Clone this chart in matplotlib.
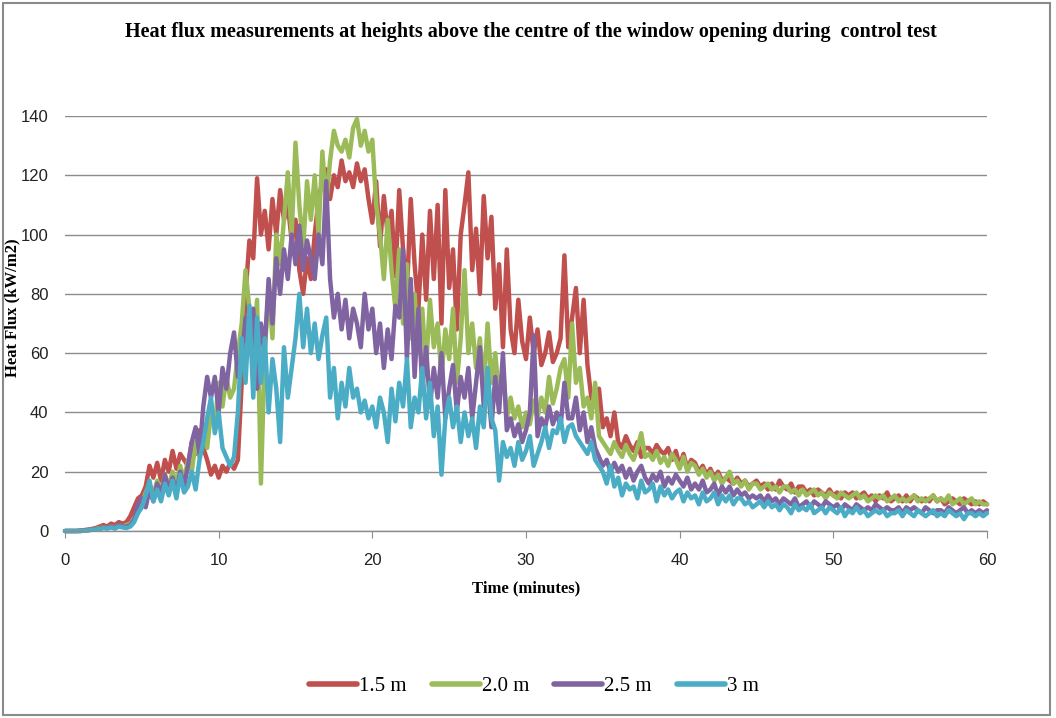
import numpy as np
import matplotlib
matplotlib.use("Agg")
import matplotlib.pyplot as plt
from matplotlib.patches import Rectangle

# time in minutes, one reading every 0.25 min
time_min = np.arange(0, 60.001, 0.25)

flux_1_5m = [
    0, 0, 0, 0,   0.2, 0.3, 0.5, 0.7,   1, 1.5, 2, 1.5,   2.5, 2, 3, 2.5,
    3, 5, 8, 11,   12, 15, 22, 18,   23, 17, 24, 20,   27, 21, 26, 24,
    22, 30, 26, 34,   28, 24, 19, 22,   18, 22, 20, 23,   21, 24, 50, 80,
    98, 92, 119, 100,   108, 95, 112, 100,   115, 105, 110, 98,   105, 88, 80, 92,
    85, 100, 112, 118,   122, 112, 120, 116,   125, 118, 121, 116,   124, 118, 122, 112,
    104, 118, 96, 113,   100, 108, 86, 115,   95, 80, 112, 90,   75, 100, 78, 108,
    85, 110, 70, 115,   82, 95, 68, 100,   110, 121, 88, 102,   80, 113, 92, 106,
    75, 90, 62, 95,   68, 60, 78, 64,   58, 72, 60, 68,   56, 60, 67, 57,
    60, 65, 93, 62,   72, 82, 60, 78,   56, 45, 42, 48,   35, 38, 32, 40,
    30, 28, 32, 29,   27, 30, 25, 28,   28, 26, 29, 27,   26, 28, 24, 27,
    22, 26, 21, 24,   23, 20, 22, 19,   21, 18, 20, 17,   18, 17, 16, 18,
    16, 17, 15, 16,   17, 15, 16, 14,   16, 14, 17, 15,   14, 16, 13, 15,
    15, 13, 14, 12,   14, 13, 12, 14,   12, 13, 11, 13,   12, 13, 11, 12,
    13, 11, 12, 10,   12, 11, 13, 10,   11, 12, 10, 12,   10, 12, 11, 10,
    11, 10, 12, 10,   11, 9, 10, 11,   10, 9, 11, 10,   9, 10, 9, 10,
    9,
]

flux_2_0m = [
    0, 0, 0, 0,   0, 0.2, 0.3, 0.5,   0.7, 1, 1.2, 1,   1.5, 1.2, 2, 1.5,
    2, 2.5, 4, 7,   9, 13, 16, 12,   17, 13, 19, 15,   20, 16, 22, 17,
    24, 20, 30, 25,   33, 28, 40, 35,   50, 42, 52, 45,   48, 60, 70, 88,
    75, 62, 78, 16,   60, 82, 65, 100,   90, 105, 121, 100,   131, 110, 95, 118,
    105, 120, 100, 128,   110, 125, 135, 130,   128, 132, 126, 136,   139, 130, 135, 128,
    132, 110, 100, 85,   105, 88, 75, 95,   70, 90, 65, 80,   60, 75, 55, 78,
    62, 70, 52, 68,   58, 75, 50, 65,   88, 60, 70, 55,   65, 48, 70, 50,
    60, 45, 55, 38,   45, 38, 42, 35,   40, 36, 44, 38,   45, 40, 52, 43,
    48, 55, 58, 45,   70, 50, 55, 42,   45, 38, 50, 32,   30, 28, 26, 30,
    27, 25, 29, 26,   24, 28, 33, 25,   26, 24, 27, 23,   25, 22, 26, 24,
    21, 25, 20, 23,   22, 19, 21, 18,   20, 17, 19, 16,   18, 20, 16, 17,
    15, 17, 14, 16,   16, 14, 15, 16,   14, 15, 13, 15,   15, 13, 14, 12,
    14, 12, 13, 14,   12, 13, 11, 13,   12, 11, 13, 12,   11, 12, 13, 11,
    12, 10, 11, 12,   11, 12, 10, 11,   12, 10, 11, 10,   11, 12, 10, 11,
    10, 11, 12, 10,   11, 10, 12, 9,   10, 11, 9, 10,   11, 9, 10, 9,
    9,
]

flux_2_5m = [
    0, 0, 0, 0,   0, 0.2, 0.3, 0.5,   0.6, 0.8, 1.2, 1,   1.5, 1, 2, 1.5,
    1.5, 2, 4, 9,   11, 8, 14, 10,   16, 12, 19, 14,   18, 13, 20, 15,
    22, 30, 35, 26,   42, 52, 45, 52,   40, 55, 48, 60,   67, 52, 58, 72,
    60, 75, 48, 70,   62, 85, 70, 92,   80, 95, 85, 100,   90, 103, 88, 98,
    92, 85, 100, 90,   118, 85, 72, 80,   68, 78, 65, 75,   70, 62, 80, 68,
    75, 60, 70, 55,   68, 58, 76, 72,   95, 58, 85, 52,   75, 48, 62, 42,
    55, 45, 60, 38,   48, 56, 40, 52,   45, 55, 38, 50,   62, 42, 50, 35,
    52, 40, 60, 34,   38, 32, 36, 30,   34, 40, 66, 32,   38, 35, 42, 36,
    40, 35, 50, 38,   38, 45, 34, 40,   30, 35, 28, 25,   22, 24, 20, 23,
    20, 22, 18, 21,   17, 20, 22, 18,   16, 19, 17, 20,   15, 18, 16, 19,
    17, 15, 18, 14,   16, 14, 17, 13,   14, 16, 12, 15,   13, 15, 12, 14,
    12, 13, 11, 12,   11, 12, 10, 12,   10, 11, 9, 11,   10, 9, 11, 8,
    9, 10, 8, 10,   9, 8, 10, 9,   8, 9, 7, 9,   8, 7, 9, 8,
    7, 8, 7, 9,   8, 7, 8, 7,   7, 8, 6, 8,   7, 8, 7, 6,
    8, 7, 6, 7,   7, 6, 8, 7,   6, 7, 8, 6,   7, 6, 7, 6,
    7,
]

flux_3m = [
    0, 0, 0, 0,   0, 0.1, 0.2, 0.4,   0.5, 0.6, 1, 0.8,   1.2, 0.8, 1.5, 1.2,
    1, 1.5, 3, 6,   8, 12, 17, 10,   14, 10, 16, 12,   17, 11, 19, 13,
    15, 20, 14, 24,   30, 38, 45, 33,   40, 28, 25, 22,   25, 40, 65, 50,
    76, 45, 72, 50,   65, 40, 58, 48,   30, 62, 45, 55,   65, 80, 62, 75,
    60, 70, 58, 66,   72, 45, 55, 38,   50, 42, 55, 45,   48, 40, 44, 38,
    42, 35, 45, 40,   30, 48, 37, 50,   42, 58, 35, 45,   40, 55, 38, 50,
    32, 42, 19, 38,   45, 35, 42, 30,   40, 32, 38, 28,   42, 35, 55, 38,
    34, 17, 30, 25,   28, 22, 30, 24,   27, 32, 22, 26,   30, 35, 28, 34,
    33, 38, 30, 35,   36, 32, 30, 28,   26, 30, 24, 22,   20, 16, 22, 15,
    18, 12, 16, 14,   15, 11, 17, 13,   14, 16, 10, 15,   12, 14, 11, 13,
    14, 10, 13, 11,   12, 9, 13, 10,   11, 13, 9, 12,   10, 12, 9, 11,
    11, 9, 10, 8,   9, 10, 8, 10,   8, 9, 7, 9,   8, 6, 9, 7,
    8, 7, 9, 6,   7, 8, 6, 8,   7, 6, 8, 5,   7, 6, 8, 6,
    7, 5, 6, 7,   6, 7, 5, 6,   6, 7, 5, 7,   6, 5, 7, 6,
    5, 6, 7, 5,   6, 5, 7, 6,   5, 6, 4, 6,   6, 5, 6, 5,
    6,
]

series_labels = ["1.5 m", "2.0 m", "2.5 m", "3 m"]
series_values = [flux_1_5m, flux_2_0m, flux_2_5m, flux_3m]
series_colors = ["#C0504D", "#9BBB59", "#8064A2", "#4BACC6"]

x_ticks = [0, 10, 20, 30, 40, 50, 60]
y_ticks = [0, 20, 40, 60, 80, 100, 120, 140]

title_text = "Heat flux measurements at heights above the centre of the window opening during  control test"
x_label = "Time (minutes)"
y_label = "Heat Flux (kW/m2)"

fig = plt.figure(figsize=(10.56, 7.18), dpi=100)
ax = fig.add_axes([65 / 1056, 187 / 718, 922 / 1056, 415 / 718])

for vals, lab, col in zip(series_values, series_labels, series_colors):
    ax.plot(time_min, vals, color=col, lw=3.2, label=lab,
            solid_joinstyle="round", solid_capstyle="round", clip_on=False)

ax.set_xlim(0, 60)
ax.set_ylim(0, 140)
ax.set_xticks(x_ticks)
ax.set_yticks(y_ticks)
ax.grid(axis="y", color="#8c8c8c", lw=1.0)
ax.set_axisbelow(True)
for s in ["top", "right", "left"]:
    ax.spines[s].set_visible(False)
ax.spines["bottom"].set_color("#8c8c8c")
ax.spines["bottom"].set_linewidth(1.0)
ax.tick_params(axis="x", direction="out", length=5, color="#8c8c8c", pad=11,
               labelsize=12, labelcolor="#222222")
ax.tick_params(axis="y", length=0, pad=12, labelsize=12, labelcolor="#222222")
for lab in ax.get_xticklabels() + ax.get_yticklabels():
    lab.set_fontfamily("Liberation Sans")

ax.set_xlabel(x_label, fontfamily="Liberation Serif", fontweight="bold",
              fontsize=12, labelpad=9)
fig.text(12 / 1056, 1 - 308 / 718, y_label, rotation=90, ha="center", va="center",
         fontfamily="Liberation Serif", fontweight="bold", fontsize=12)

fig.text(531 / 1056, 1 - 32 / 718, title_text, ha="center", va="center",
         fontfamily="Liberation Serif", fontweight="bold", fontsize=14.5)

leg = fig.legend(loc="center", bbox_to_anchor=(534 / 1056, 1 - 686 / 718), ncol=4,
                 frameon=False, handlelength=2.3, handletextpad=0.1,
                 columnspacing=1.2, prop={"family": "Liberation Serif", "size": 15})
for line in leg.get_lines():
    line.set_linewidth(4)

fig.patches.append(Rectangle((3 / 1056, 3 / 718), 1047 / 1056, 712 / 718,
                             transform=fig.transFigure, fill=False,
                             edgecolor="#8a8a8a", lw=1.5))

fig.savefig("out.png", dpi=100)
